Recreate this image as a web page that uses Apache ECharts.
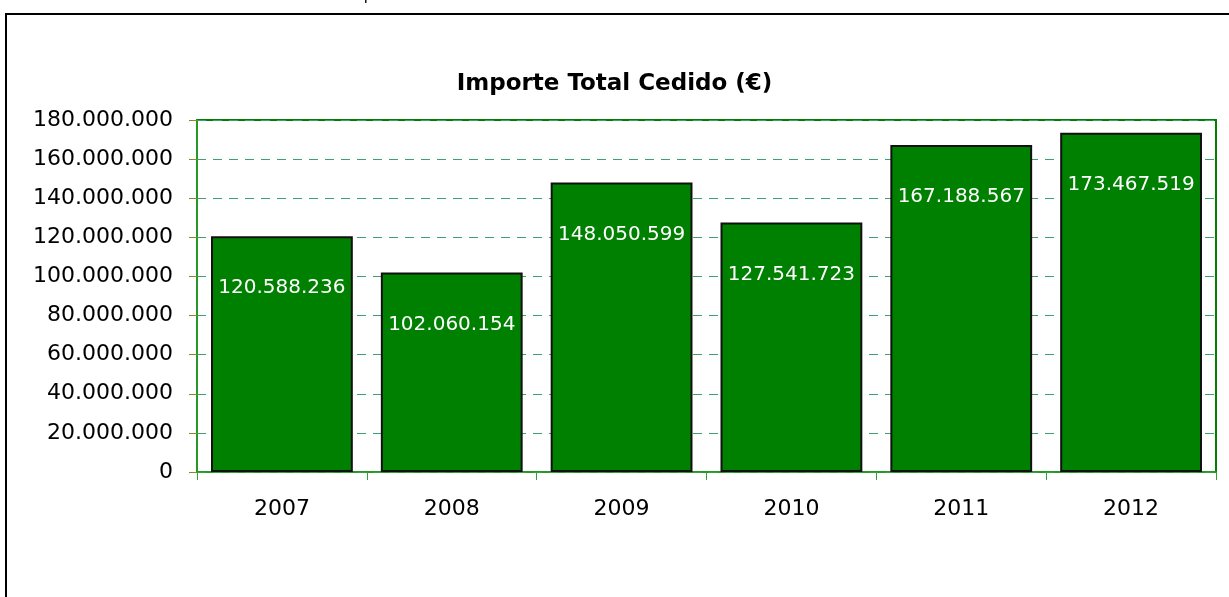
<!DOCTYPE html>
<html>
<head>
<meta charset="utf-8">
<script src="https://cdn.jsdelivr.net/npm/echarts@6/dist/echarts.min.js"></script>
<style>
    html, body { margin: 0; padding: 0; background: #fff; }
    #chart { width: 1229px; height: 597px; }
</style>
</head>
<body>
<div id="chart"></div>
<script>
// datos del gráfico
var years = ['2007', '2008', '2009', '2010', '2011', '2012'];
var importes = [120588236, 102060154, 148050599, 127541723, 167188567, 173467519];
var yTicks = [0, 20000000, 40000000, 60000000, 80000000, 100000000, 120000000, 140000000, 160000000, 180000000];

// separador de miles con punto
function fmt(v) {
    return String(v).replace(/\B(?=(\d{3})+(?!\d))/g, '.');
}

var myChart = echarts.init(document.getElementById('chart'));
var option = {
    animation: false,
    textStyle: { fontFamily: 'DejaVu Sans, sans-serif' },
    title: {
        text: 'Importe Total Cedido (€)',
        left: 'center',
        top: 68,
        textStyle: { fontSize: 23, fontWeight: 'bold', color: '#000', fontFamily: 'DejaVu Sans' }
    },
    graphic: [{
        type: 'rect',
        shape: { x: 6, y: 14, width: 1240, height: 600 },
        style: { fill: 'none', stroke: '#000', lineWidth: 2 },
        silent: true
    }, {
        type: 'text',
        left: 364,
        top: -12,
        style: { text: 'p', fontSize: 16, fill: '#000', fontFamily: 'Liberation Sans' }
    }],
    grid: {
        left: 197,
        top: 120,
        right: 13,
        bottom: 125,
        show: true,
        borderColor: '#008000',
        borderWidth: 2,
        backgroundColor: '#fff'
    },
    xAxis: {
        type: 'category',
        data: years,
        axisLine: { lineStyle: { color: '#33a033', width: 1.5 } },
        axisTick: { show: true, length: 8, lineStyle: { color: '#33a033' } },
        axisLabel: { fontSize: 22, color: '#000', margin: 26 }
    },
    yAxis: {
        type: 'value',
        min: yTicks[0],
        max: yTicks[yTicks.length - 1],
        interval: yTicks[1] - yTicks[0],
        axisLine: { show: true, lineStyle: { color: '#33a033', width: 1.5 } },
        axisTick: { show: true, length: 8, lineStyle: { color: '#8a8a20' } },
        axisLabel: {
            fontSize: 22,
            color: '#000',
            margin: 24,
            formatter: function (v) { return fmt(v); }
        },
        splitLine: { lineStyle: { color: '#3fa070', type: [9, 7], width: 1 } }
    },
    series: [{
        type: 'bar',
        data: importes,
        barWidth: '83.5%',
        itemStyle: { color: '#008000', borderColor: '#111', borderWidth: 2 },
        label: {
            show: true,
            position: 'insideTop',
            distance: 42,
            color: '#fff',
            fontSize: 20,
            formatter: function (p) { return fmt(p.value); }
        }
    }]
};
myChart.setOption(option);
</script>
</body>
</html>
